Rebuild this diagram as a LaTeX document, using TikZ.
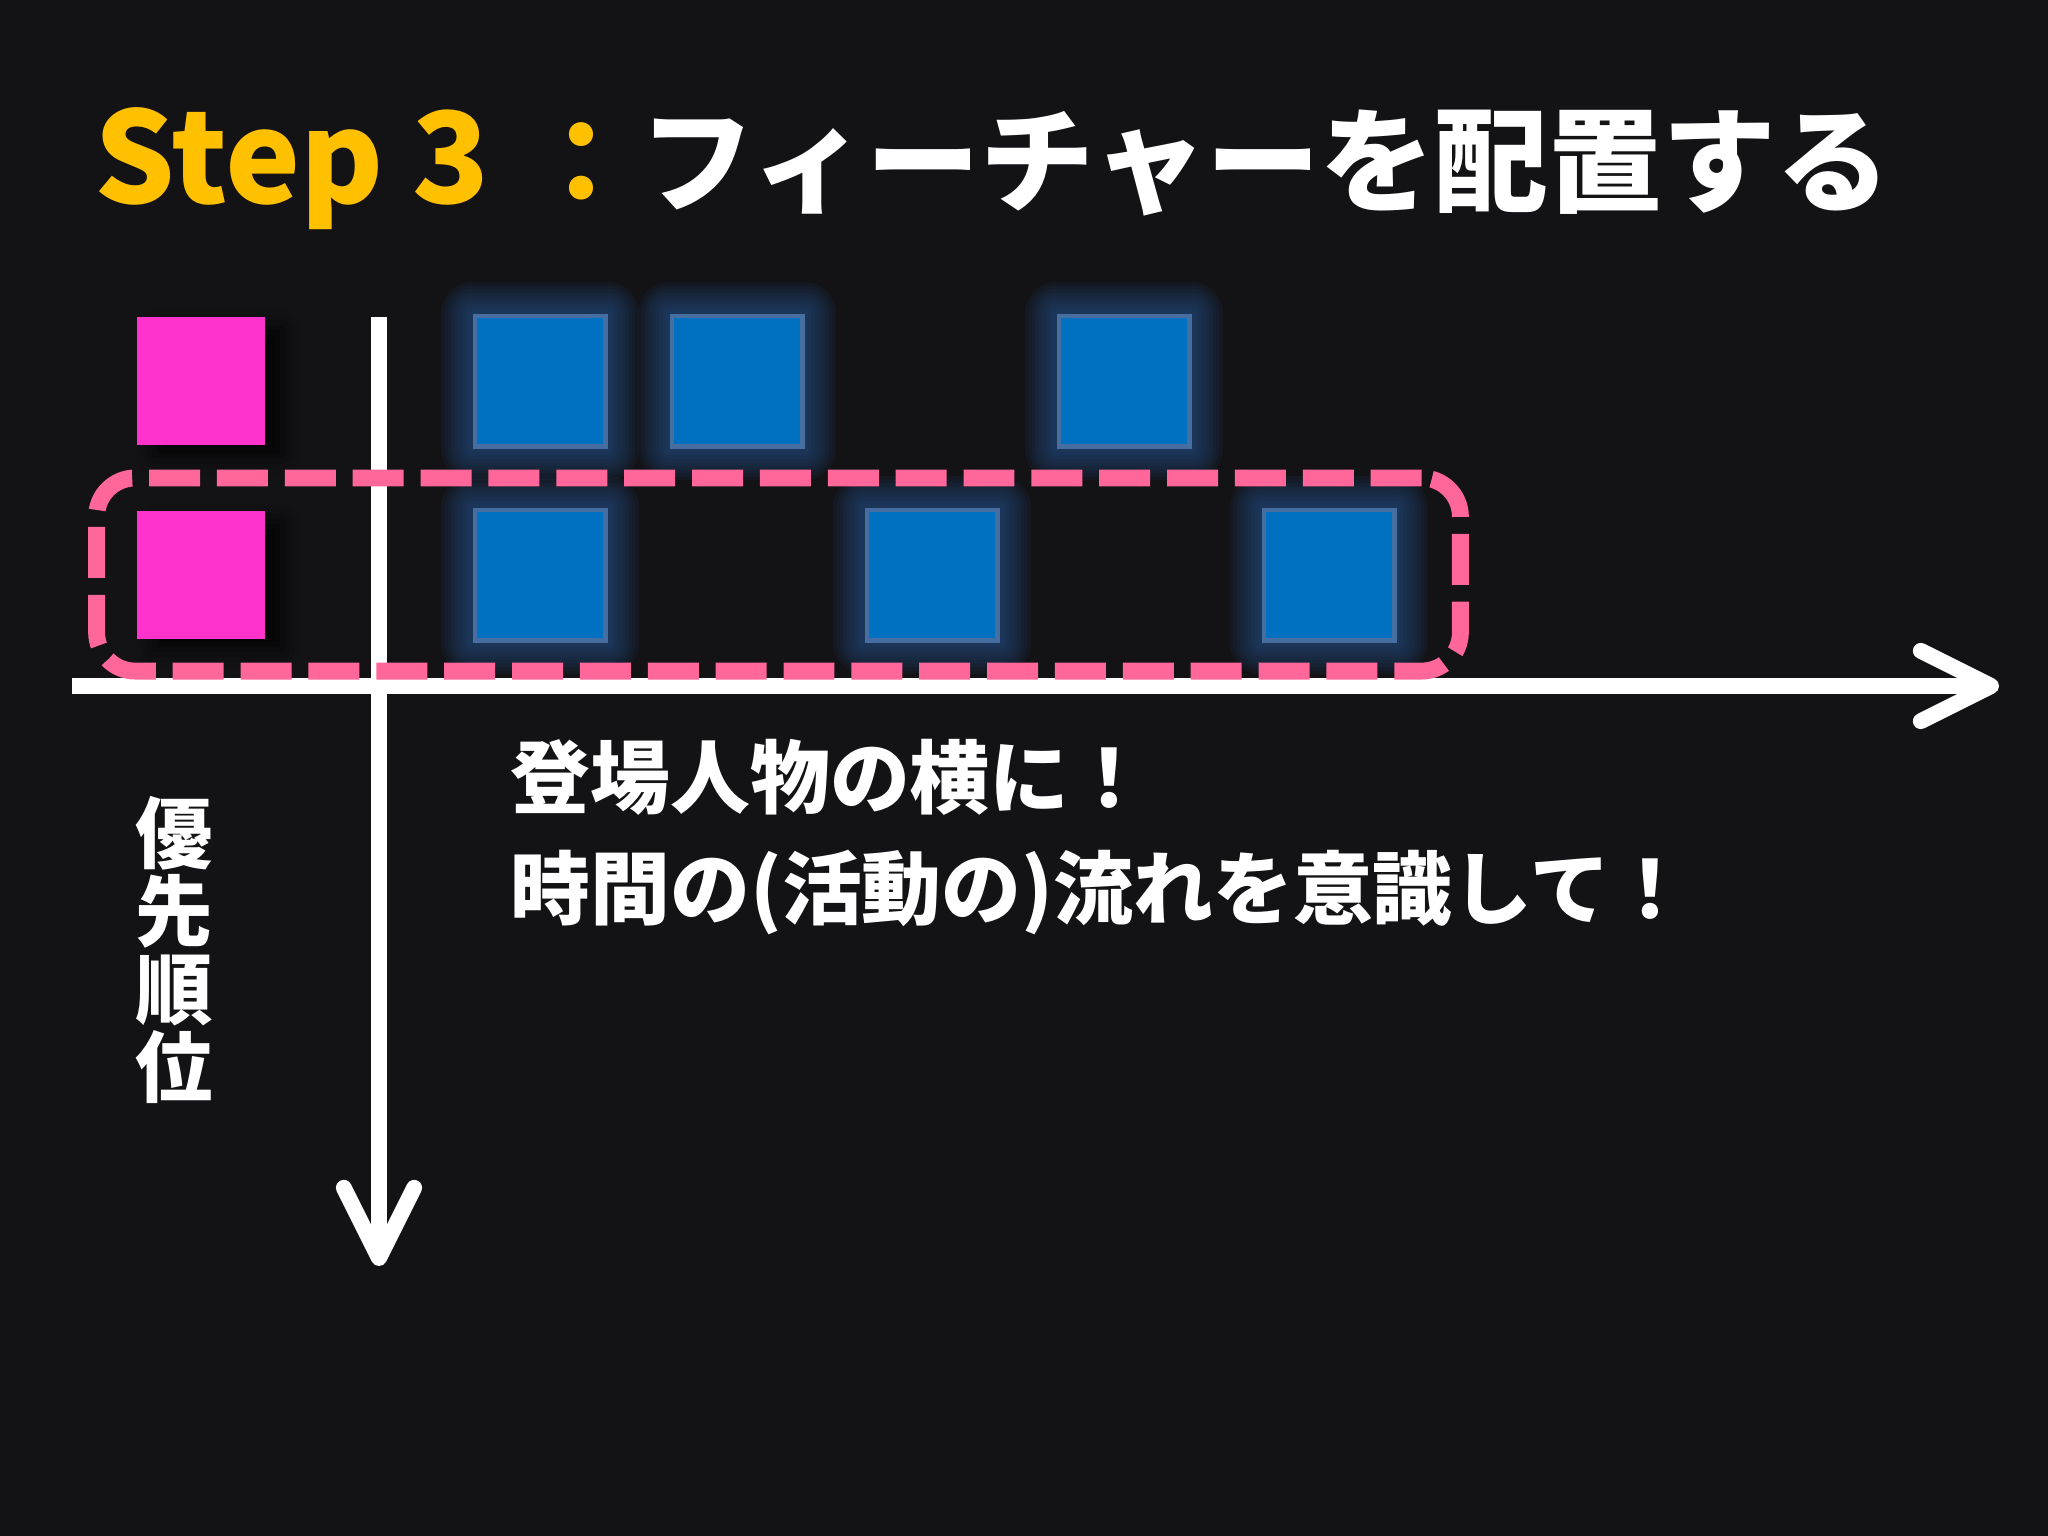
\documentclass[tikz,border=0pt]{standalone}
\usepackage{fontspec}
\setmainfont{Noto Sans CJK JP}
\usetikzlibrary{arrows.meta,backgrounds,shadows.blur}

\definecolor{slidebg}{RGB}{19,18,21}
\definecolor{stepyellow}{RGB}{255,192,0}
\definecolor{personapink}{RGB}{255,51,204}
\definecolor{focuspink}{RGB}{255,102,153}
\definecolor{featblue}{RGB}{0,112,192}
\definecolor{featedge}{RGB}{70,110,160}
\definecolor{glowblue}{RGB}{40,85,145}

\tikzset{
  feature/.style={draw=featedge, line width=1.4pt, fill=featblue, minimum size=1.30cm, inner sep=0pt},
  persona/.style={fill=personapink, minimum size=1.28cm, inner sep=0pt,
    blur shadow={shadow xshift=5pt, shadow yshift=-3pt, shadow blur radius=5pt, shadow opacity=80}},
  timeaxis/.style={white, line width=4.5pt, -{Straight Barb[length=20pt,width=20pt,round]}},
  focusbox/.style={draw=focuspink, line width=4.8pt, dash pattern=on 14.5pt off 4.8pt, rounded corners=11pt, inner sep=0pt},
  notetext/.style={white, font=\bfseries\fontsize{22.7}{22.7}\selectfont, inner sep=0pt}
}

\begin{document}
\begin{tikzpicture}[x=0.01cm, y=-0.01cm]
    \useasboundingbox (0,0) rectangle (2048,1536);

    % Title
    \node[anchor=base west, inner sep=0pt, text=stepyellow, font=\bfseries\fontsize{36}{36}\selectfont] (step) at (94,203) {Step 3};
    \node[anchor=base, inner sep=0pt, text=stepyellow, font=\bfseries\fontsize{32.4}{32.4}\selectfont] (colon) at (581,203) {：};
    \node[anchor=base west, inner sep=0pt, text=white, font=\bfseries\fontsize{32.4}{32.4}\selectfont] (title) at (640,203) {フィーチャーを配置する};

    % Features
    \node[feature] (f1) at (540,381) {};
    \node[feature] (f2) at (737,381) {};
    \node[feature] (f3) at (1124,381) {};
    \node[feature] (f4) at (540,575) {};
    \node[feature] (f5) at (932,575) {};
    \node[feature] (f6) at (1329,575) {};

    % Personas
    \node[persona] (p1) at (201,381) {};
    \node[persona] (p2) at (201,575) {};

    % Axes
    \coordinate (xstart) at (72,686);
    \coordinate (xend) at (1999,686);
    \coordinate (ystart) at (379,317);
    \coordinate (yend) at (379,1266);
    \draw[timeaxis] (xstart) -- (xend);
    \draw[timeaxis] (ystart) -- (yend);

    % Row in focus
    \node[focusbox, minimum width=13.63cm, minimum height=1.93cm] (focus) at (778.5,574.5) {};

    % Texts
    \node[notetext, align=center, font=\bfseries\fontsize{22}{22.2}\selectfont] (prio) at (174,950) {優\\先\\順\\位};
    \node[notetext, anchor=west] (side) at (510,777) {登場人物の横に！};
    \node[notetext, anchor=west] (flow) at (510,892) {時間の(活動の)流れを意識して！};

    \begin{scope}[on background layer]
        \fill[slidebg] (0,0) rectangle (2048,1536);
        % glow
        \foreach \i in {1,...,6}
            \foreach \g in {1,...,9}
                \fill[glowblue, opacity=0.09, rounded corners=\g pt]
                    ([shift={(-\g pt,\g pt)}]f\i.north west) rectangle ([shift={(\g pt,-\g pt)}]f\i.south east);
    \end{scope}
\end{tikzpicture}
\end{document}
